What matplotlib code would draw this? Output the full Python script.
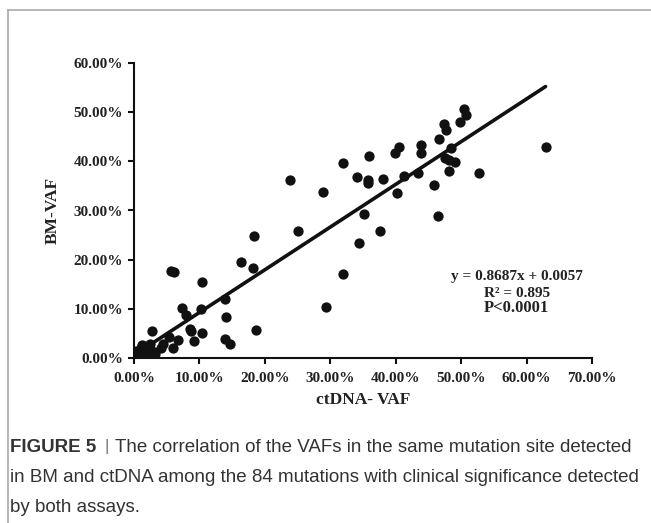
import matplotlib
matplotlib.use("Agg")
import matplotlib.pyplot as plt
from matplotlib.ticker import PercentFormatter, MultipleLocator
from matplotlib.lines import Line2D

# ctDNA VAF (%) and BM VAF (%)
ctdna_vaf = [50.5, 50.8, 49.9, 47.4, 47.7, 46.6, 40.5, 39.9, 43.9, 43.8, 48.5, 62.9,
             47.6, 48.1, 49.0, 35.9, 31.9, 48.1, 52.8, 34.1, 35.8, 35.8, 38.1, 41.2,
             43.4, 45.8, 28.9, 40.2, 23.8,
             35.2, 46.5, 37.6, 34.4, 31.9, 29.3, 25.1,
             18.4, 16.4, 18.2, 5.6, 6.1, 10.4, 13.9, 7.3, 10.2, 7.9, 14.1, 8.5, 8.7,
             18.6, 2.8, 5.4, 10.4, 6.7, 9.2, 13.9, 14.7, 4.5, 4.2, 6.0,
             0.2, 0.4, 0.5, 0.7, 0.8, 1.0, 1.1, 1.3, 1.5, 1.6, 1.8, 1.9, 2.0, 2.1,
             2.3, 2.5, 2.6, 2.8, 3.0, 3.2, 0.3, 1.2, 1.7, 2.4]
bm_vaf = [50.7, 49.4, 48.1, 47.6, 46.3, 44.6, 43.0, 41.6, 43.4, 41.6, 42.8, 42.9,
          40.6, 40.2, 39.8, 41.1, 39.7, 38.1, 37.7, 36.9, 36.2, 35.6, 36.5, 37.1,
          37.7, 35.2, 33.7, 33.6, 36.2,
          29.3, 28.9, 25.8, 23.4, 17.0, 10.4, 25.8,
          24.8, 19.5, 18.4, 17.7, 17.5, 15.5, 11.9, 10.2, 10.0, 8.7, 8.3, 6.0, 5.5,
          5.6, 5.4, 4.3, 5.0, 3.7, 3.5, 3.8, 2.8, 2.8, 2.0, 2.1,
          0.3, 0.8, 1.2, 0.5, 1.5, 1.0, 2.0, 0.6, 1.8, 2.4, 1.2, 0.8, 2.2, 1.6,
          0.6, 1.9, 1.0, 0.7, 1.3, 0.9, 1.5, 2.6, 0.3, 2.8]

slope = 0.8687
intercept = 0.0057
r_squared = 0.895
p_text = "P<0.0001"

caption_lines = [
    "The correlation of the VAFs in the same mutation site detected",
    "in BM and ctDNA among the 84 mutations with clinical significance detected",
    "by both assays.",
]

x_vals = [v / 100 for v in ctdna_vaf]
y_vals = [v / 100 for v in bm_vaf]

fig = plt.figure(figsize=(6.51, 5.23), dpi=100)
ax = fig.add_axes([134 / 651, 1 - 358 / 523, 458 / 651, 295 / 523])

serif = ["Liberation Serif", "DejaVu Serif"]

ax.scatter(x_vals, y_vals, s=55, color="#111111", zorder=3, linewidths=0)
x0, x1 = 0.0, max(x_vals)
ax.plot([x0, x1], [slope * x0 + intercept, slope * x1 + intercept],
        color="#111111", lw=2.6, solid_capstyle="round", zorder=2)

ax.set_xlim(0, 0.70)
ax.set_ylim(0, 0.60)
ax.xaxis.set_major_locator(MultipleLocator(0.10))
ax.yaxis.set_major_locator(MultipleLocator(0.10))
ax.xaxis.set_major_formatter(PercentFormatter(xmax=1, decimals=2))
ax.yaxis.set_major_formatter(PercentFormatter(xmax=1, decimals=2))

for s in ["top", "right"]:
    ax.spines[s].set_visible(False)
for s in ["left", "bottom"]:
    ax.spines[s].set_linewidth(1.5)
    ax.spines[s].set_color("#111111")
ax.tick_params(direction="out", length=4, width=1.5, color="#111111", pad=4)
for lab in ax.get_xticklabels() + ax.get_yticklabels():
    lab.set_fontfamily(serif)
    lab.set_fontweight("bold")
    lab.set_fontsize(11)
    lab.set_color("#222222")
ax.tick_params(axis="x", pad=6)

ax.set_xlabel("ctDNA- VAF", fontfamily=serif, fontweight="bold", fontsize=12.5,
              color="#222222", labelpad=5)
ax.set_ylabel("BM-VAF", fontfamily=serif, fontweight="bold", fontsize=12.5,
              color="#222222", labelpad=9)

stat_lines = [f"y = {slope}x + {intercept}", f"R² = {r_squared}", p_text]
stat_y = [0.1667, 0.1321, 0.1016]
stat_size = [11, 11, 12]
for txt, yy, fs in zip(stat_lines, stat_y, stat_size):
    ax.text(0.585, yy, txt, transform=ax.transData, ha="center", va="center",
            fontfamily=serif, fontweight="bold", fontsize=fs, color="#222222")

# frame lines
fig.add_artist(Line2D([8 / 651, 1], [1 - 10 / 523, 1 - 10 / 523],
                      transform=fig.transFigure, color="#aaaaaa", lw=1.2))
fig.add_artist(Line2D([8 / 651, 8 / 651], [0, 1 - 10 / 523],
                      transform=fig.transFigure, color="#aaaaaa", lw=1.2))

cap_font = ["Liberation Sans", "DejaVu Sans"]
cap_size = 13.5
cap_col = "#333333"
renderer = fig.canvas.get_renderer()
t0 = fig.text(10 / 651, 1 - 447 / 523, "FIGURE 5", fontfamily=cap_font,
              fontweight="bold", fontsize=cap_size, color=cap_col, va="center")
bb = t0.get_window_extent(renderer)
bar_x = bb.x1 + 8
fig.text(bar_x / 651, 1 - 446 / 523, "|", fontfamily=cap_font, fontsize=cap_size - 1,
         color="#777777", va="center")
fig.text((bar_x + 11) / 651, 1 - 447 / 523, caption_lines[0],
         fontfamily=cap_font, fontsize=cap_size, color=cap_col, va="center")
fig.text(10 / 651, 1 - 478 / 523, caption_lines[1],
         fontfamily=cap_font, fontsize=cap_size, color=cap_col, va="center")
fig.text(10 / 651, 1 - 508 / 523, caption_lines[2],
         fontfamily=cap_font, fontsize=cap_size, color=cap_col, va="center")

fig.savefig("out.png", dpi=100)
